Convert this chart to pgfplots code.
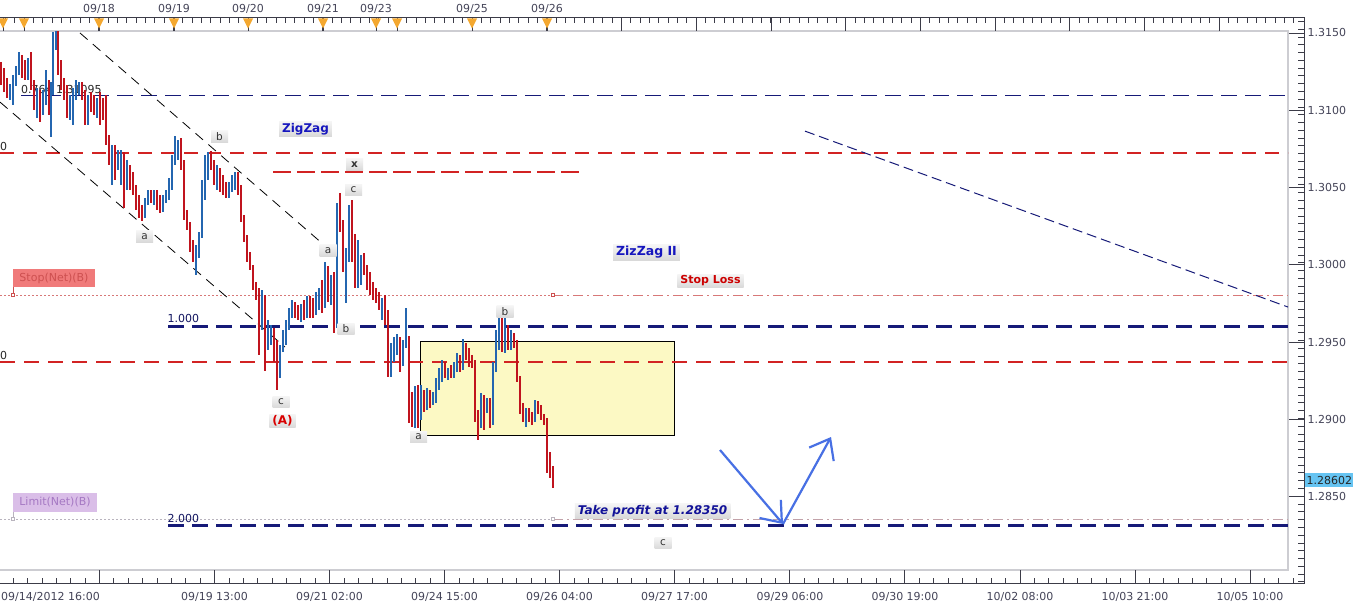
\documentclass[border=0pt]{standalone}
\usepackage{fontspec}
\setmainfont{DejaVu Sans}
\usepackage{pgfplots}
\usepackage{pgfplotstable}
\pgfplotsset{compat=1.18}
\usetikzlibrary{arrows.meta}

\definecolor{cred}{RGB}{192,20,30}
\definecolor{cblue}{RGB}{36,102,176}
\definecolor{navy}{RGB}{22,26,120}
\definecolor{lvred}{RGB}{210,35,35}
\definecolor{axdark}{RGB}{60,60,72}
\definecolor{labgray}{RGB}{68,68,88}
\definecolor{framegray}{RGB}{205,205,210}
\definecolor{tri}{RGB}{244,168,48}
\definecolor{yel}{RGB}{252,249,196}
\definecolor{arrowblue}{RGB}{72,112,228}
\definecolor{txtblue}{RGB}{22,22,190}
\definecolor{stopfill}{RGB}{240,122,122}
\definecolor{stoptext}{RGB}{205,80,80}
\definecolor{limfill}{RGB}{218,190,232}
\definecolor{limtext}{RGB}{165,120,195}
\definecolor{pricebox}{RGB}{102,196,242}
\definecolor{stopline}{RGB}{215,120,120}
\definecolor{limline}{RGB}{185,180,190}

\pgfplotsset{
  pix/.style={at={(0,0)}, anchor=south west, scale only axis, width=1360bp, height=608bp,
    xmin=0, xmax=1360, ymin=0, ymax=608, y dir=reverse, hide axis, clip=false},
  prc/.style={at={(0,0)}, anchor=south west, scale only axis, width=1360bp, height=608bp,
    xmin=0, xmax=1360, ymin=1.277799, ymax=1.317135, hide axis, clip=false},
  candle/.style 2 args={only marks, mark size=0pt, mark options={draw=none, fill=none}, forget plot,
    error bars/.cd, y dir=minus, y explicit, error mark=none,
    error bar style={draw=#1, line width=#2}},
}
\tikzset{
  lab/.style={font=\fontsize{11bp}{13bp}\selectfont, text=labgray, inner sep=0pt},
  wbox/.style={top color=gray!8, bottom color=gray!30, draw=none, minimum width=17bp, minimum height=11.5bp,
    inner sep=0pt, font=\fontsize{10.5bp}{12bp}\selectfont, text=black!80},
  bbox/.style={top color=gray!8, bottom color=gray!30, draw=none, inner xsep=3bp, inner ysep=1.5bp},
}

\pgfplotstableread{
x o h l c
1 1.31247 1.31312 1.31163 1.31195
4 1.31195 1.31273 1.31118 1.31144
7 1.31144 1.31208 1.31079 1.31118
22 1.31312 1.31357 1.31208 1.31273
25 1.31273 1.31325 1.31195 1.31228
31 1.31260 1.31377 1.31131 1.31163
34 1.31163 1.31195 1.31001 1.31034
40 1.31098 1.31131 1.30924 1.31014
49 1.31118 1.31195 1.30969 1.31034
58 1.31487 1.31512 1.31228 1.31260
61 1.31260 1.31325 1.31131 1.31163
64 1.31163 1.31208 1.31066 1.31098
67 1.31098 1.31163 1.30949 1.31001
82 1.31163 1.31182 1.31066 1.31098
85 1.31098 1.31131 1.30904 1.31001
91 1.31066 1.31118 1.30988 1.31034
94 1.31034 1.31098 1.30969 1.31014
100 1.31053 1.31118 1.30904 1.31001
103 1.31001 1.31079 1.30937 1.30969
106 1.31001 1.31098 1.30775 1.30807
109 1.30807 1.30840 1.30645 1.30678
115 1.30755 1.30775 1.30548 1.30645
124 1.30710 1.30730 1.30367 1.30548
130 1.30613 1.30645 1.30484 1.30548
133 1.30548 1.30600 1.30451 1.30484
136 1.30484 1.30516 1.30354 1.30419
139 1.30419 1.30451 1.30302 1.30354
142 1.30354 1.30387 1.30283 1.30322
151 1.30451 1.30484 1.30400 1.30419
157 1.30451 1.30484 1.30354 1.30419
160 1.30419 1.30451 1.30335 1.30387
181 1.30775 1.30820 1.30613 1.30645
184 1.30645 1.30678 1.30290 1.30322
187 1.30322 1.30354 1.30225 1.30257
190 1.30257 1.30277 1.30083 1.30108
193 1.30108 1.30160 1.30018 1.30044
211 1.30691 1.30736 1.30613 1.30645
214 1.30645 1.30678 1.30516 1.30548
220 1.30600 1.30626 1.30471 1.30516
223 1.30516 1.30581 1.30451 1.30484
226 1.30484 1.30535 1.30432 1.30445
238 1.30561 1.30600 1.30451 1.30484
241 1.30484 1.30516 1.30277 1.30290
244 1.30290 1.30322 1.30147 1.30160
247 1.30160 1.30193 1.30018 1.30044
250 1.30044 1.30083 1.29966 1.29979
253 1.29979 1.29998 1.29837 1.29863
256 1.29863 1.29888 1.29772 1.29798
259 1.29798 1.29850 1.29416 1.29643
265 1.29772 1.29804 1.29313 1.29513
274 1.29565 1.29591 1.29371 1.29448
277 1.29448 1.29513 1.29190 1.29319
295 1.29733 1.29759 1.29655 1.29694
298 1.29694 1.29740 1.29643 1.29668
304 1.29720 1.29772 1.29643 1.29694
310 1.29772 1.29798 1.29655 1.29740
313 1.29740 1.29785 1.29655 1.29694
322 1.29804 1.29901 1.29688 1.29740
328 1.29934 1.29992 1.29759 1.29804
334 1.29901 1.29953 1.29559 1.29610
340 1.30354 1.30464 1.30212 1.30257
343 1.30257 1.30290 1.29953 1.29998
352 1.30341 1.30419 1.30018 1.30063
355 1.30063 1.30199 1.29850 1.29901
364 1.30018 1.30076 1.29934 1.29966
367 1.29966 1.29998 1.29837 1.29888
370 1.29888 1.29953 1.29804 1.29837
373 1.29837 1.29888 1.29772 1.29804
376 1.29804 1.29850 1.29753 1.29772
379 1.29772 1.29824 1.29707 1.29740
385 1.29772 1.29804 1.29610 1.29643
388 1.29643 1.29707 1.29274 1.29351
400 1.29513 1.29533 1.29306 1.29371
409 1.29513 1.29539 1.28976 1.29093
412 1.29093 1.29177 1.28950 1.29028
418 1.29157 1.29222 1.28944 1.29060
424 1.29177 1.29190 1.29047 1.29112
430 1.29157 1.29190 1.29073 1.29125
445 1.29332 1.29371 1.29267 1.29287
451 1.29306 1.29351 1.29267 1.29287
460 1.29384 1.29416 1.29306 1.29332
466 1.29461 1.29494 1.29384 1.29436
469 1.29436 1.29461 1.29339 1.29384
472 1.29384 1.29416 1.29332 1.29371
475 1.29371 1.29384 1.28983 1.29008
478 1.29008 1.29060 1.28866 1.28963
484 1.29125 1.29157 1.28931 1.29093
490 1.29112 1.29138 1.28944 1.28996
502 1.29630 1.29655 1.29436 1.29481
508 1.29591 1.29610 1.29448 1.29481
514 1.29526 1.29559 1.29461 1.29481
517 1.29481 1.29513 1.29241 1.29267
520 1.29267 1.29280 1.29034 1.29060
523 1.29060 1.29106 1.28983 1.29008
529 1.29047 1.29073 1.28983 1.29008
532 1.29008 1.29047 1.28963 1.28996
538 1.29093 1.29119 1.29034 1.29060
541 1.29060 1.29093 1.28996 1.29021
544 1.29021 1.29034 1.28963 1.28983
547 1.28983 1.29008 1.28653 1.28685
550 1.28685 1.28789 1.28620 1.28672
553 1.28672 1.28698 1.28556 1.28601
}\redtab

\pgfplotstableread{
x o h l c
10 1.31118 1.31170 1.31066 1.31157
13 1.31144 1.31228 1.31034 1.31195
16 1.31195 1.31286 1.31157 1.31260
19 1.31260 1.31377 1.31228 1.31325
28 1.31228 1.31338 1.31195 1.31260
37 1.31034 1.31144 1.30949 1.31098
43 1.31014 1.31131 1.30969 1.31098
46 1.31098 1.31260 1.31034 1.31131
51 1.31034 1.31182 1.30827 1.31131
53 1.31131 1.31506 1.31098 1.31454
56 1.31454 1.31512 1.31390 1.31487
70 1.31001 1.31098 1.30937 1.31066
73 1.31066 1.31144 1.30904 1.31118
76 1.31118 1.31195 1.31066 1.31144
79 1.31144 1.31182 1.31098 1.31163
88 1.31001 1.31098 1.30904 1.31066
97 1.31014 1.31079 1.30949 1.31053
112 1.30678 1.30775 1.30516 1.30755
118 1.30645 1.30742 1.30613 1.30691
121 1.30678 1.30742 1.30516 1.30710
127 1.30548 1.30678 1.30484 1.30613
145 1.30322 1.30432 1.30302 1.30419
148 1.30419 1.30484 1.30387 1.30451
154 1.30419 1.30484 1.30387 1.30451
163 1.30387 1.30451 1.30341 1.30419
166 1.30419 1.30484 1.30400 1.30451
169 1.30451 1.30561 1.30419 1.30516
172 1.30516 1.30710 1.30484 1.30678
175 1.30678 1.30833 1.30645 1.30775
178 1.30775 1.30807 1.30678 1.30788
196 1.30044 1.30128 1.29934 1.30095
199 1.30095 1.30212 1.30044 1.30193
202 1.30193 1.30548 1.30173 1.30451
205 1.30451 1.30710 1.30419 1.30645
208 1.30645 1.30730 1.30548 1.30678
217 1.30548 1.30645 1.30484 1.30600
229 1.30445 1.30535 1.30432 1.30497
232 1.30497 1.30581 1.30471 1.30535
235 1.30535 1.30600 1.30484 1.30561
262 1.29643 1.29837 1.29578 1.29772
268 1.29513 1.29643 1.29448 1.29546
271 1.29546 1.29610 1.29481 1.29565
280 1.29306 1.29481 1.29267 1.29461
283 1.29461 1.29578 1.29436 1.29513
286 1.29513 1.29643 1.29481 1.29610
289 1.29610 1.29720 1.29578 1.29694
292 1.29694 1.29772 1.29655 1.29733
301 1.29668 1.29746 1.29630 1.29720
307 1.29694 1.29798 1.29655 1.29772
316 1.29694 1.29824 1.29675 1.29772
319 1.29772 1.29850 1.29707 1.29804
325 1.29740 1.30018 1.29720 1.29934
331 1.29804 1.29934 1.29740 1.29901
337 1.29610 1.30400 1.29591 1.30354
346 1.29998 1.30108 1.29753 1.30063
349 1.30063 1.30387 1.30018 1.30341
358 1.29901 1.30160 1.29850 1.29998
361 1.29998 1.30063 1.29869 1.30018
382 1.29740 1.29785 1.29643 1.29772
391 1.29351 1.29494 1.29274 1.29448
394 1.29448 1.29533 1.29371 1.29500
397 1.29500 1.29552 1.29416 1.29513
403 1.29371 1.29513 1.29345 1.29481
406 1.29481 1.29720 1.29461 1.29513
415 1.29028 1.29216 1.28944 1.29157
421 1.29060 1.29222 1.28996 1.29177
427 1.29112 1.29203 1.29060 1.29157
433 1.29125 1.29177 1.29093 1.29138
436 1.29138 1.29267 1.29106 1.29222
439 1.29222 1.29332 1.29190 1.29306
442 1.29306 1.29384 1.29241 1.29332
448 1.29287 1.29332 1.29254 1.29306
454 1.29287 1.29371 1.29267 1.29332
457 1.29332 1.29429 1.29306 1.29384
463 1.29332 1.29520 1.29319 1.29461
481 1.28963 1.29170 1.28944 1.29125
487 1.29093 1.29138 1.29041 1.29112
493 1.28996 1.29371 1.28963 1.29319
496 1.29319 1.29578 1.29306 1.29546
499 1.29546 1.29675 1.29448 1.29630
505 1.29481 1.29662 1.29429 1.29591
511 1.29481 1.29578 1.29448 1.29526
526 1.29008 1.29073 1.28950 1.29047
535 1.28996 1.29125 1.28983 1.29093
}\bluetab

\begin{document}
\begin{tikzpicture}
\useasboundingbox (0,0) rectangle (1360bp,608bp);
\fill[white] (0,0) rectangle (1360bp,608bp);

%================ background / axes (pixel coordinates)
\begin{axis}[pix]
  \draw[framegray, line width=2bp] (axis cs:0,31) -- (axis cs:1288,31) -- (axis cs:1288,570) -- (axis cs:0,570);
  \draw[axdark, line width=1bp] (axis cs:0,18) -- (axis cs:1304,18) -- (axis cs:1304,583) -- (axis cs:0,583);
  % bottom ticks
  \pgfplotsforeachungrouped \k in {-6,...,83}{%
    \pgfmathsetmacro\xx{99.5+14.381*\k}%
    \edef\temp{\noexpand\draw[axdark, line width=0.8bp] (axis cs:\xx,583) -- (axis cs:\xx,578);}\temp
  }
  \pgfplotsforeachungrouped \m in {0,...,10}{%
    \pgfmathsetmacro\xx{99.5+115.05*\m}%
    \edef\temp{\noexpand\draw[axdark, line width=0.8bp] (axis cs:\xx,583) -- (axis cs:\xx,570);}\temp
  }
  % top ticks
  \pgfplotsforeachungrouped \k in {-2,...,136}{%
    \pgfmathsetmacro\xx{24+9.336*\k}%
    \edef\temp{\noexpand\draw[axdark, line width=0.8bp] (axis cs:\xx,18) -- (axis cs:\xx,23.5);}\temp
  }
  \pgfplotsforeachungrouped \m in {0,...,16}{%
    \pgfmathsetmacro\xx{24+74.69*\m}%
    \edef\temp{\noexpand\draw[axdark, line width=0.8bp] (axis cs:\xx,18) -- (axis cs:\xx,31);}\temp
  }
  \pgfplotsinvokeforeach{3,24,99,174,248,323,376,397,472,547}{%
    \draw[axdark, line width=0.8bp] (axis cs:#1,18) -- (axis cs:#1,31);
    \fill[tri] (axis cs:#1,28.5) -- ++(-5bp,10bp) -- ++(10bp,0) -- cycle;
  }
  % top labels
  \node[lab] at (axis cs:99,9) {09/18};
  \node[lab] at (axis cs:174,9) {09/19};
  \node[lab] at (axis cs:248,9) {09/20};
  \node[lab] at (axis cs:323,9) {09/21};
  \node[lab] at (axis cs:376,9) {09/23};
  \node[lab] at (axis cs:472,9) {09/25};
  \node[lab] at (axis cs:547,9) {09/26};
  % bottom labels
  \node[lab, anchor=west] at (axis cs:1,597) {09/14/2012 16:00};
  \node[lab] at (axis cs:214.5,597) {09/19 13:00};
  \node[lab] at (axis cs:329.5,597) {09/21 02:00};
  \node[lab] at (axis cs:444.5,597) {09/24 15:00};
  \node[lab] at (axis cs:559.5,597) {09/26 04:00};
  \node[lab] at (axis cs:674.5,597) {09/27 17:00};
  \node[lab] at (axis cs:790,597) {09/29 06:00};
  \node[lab] at (axis cs:905,597) {09/30 19:00};
  \node[lab] at (axis cs:1020,597) {10/02 08:00};
  \node[lab] at (axis cs:1135,597) {10/03 21:00};
  \node[lab] at (axis cs:1250,597) {10/05 10:00};
  % current price box
  \fill[pricebox] (axis cs:1305,473) rectangle (axis cs:1353,487);
  \node[lab, text=black!85, anchor=west] at (axis cs:1306.5,480) {1.28602};
  % fibonacci label drawn below the candles
  \node[lab, text=black!85, anchor=west] at (axis cs:21,89) {0.764 1.31095};
\end{axis}

%================ price data
\begin{axis}[prc]
  % right axis ticks
  \pgfplotsforeachungrouped \k in {0,...,72}{%
    \pgfmathsetmacro\pp{1.2795+0.0005*\k}%
    \edef\temp{\noexpand\draw[axdark, line width=0.8bp] (axis cs:1298,\pp) -- (axis cs:1304,\pp);}\temp
  }
  \pgfplotsinvokeforeach{1.2850,1.2900,1.2950,1.3000,1.3050,1.3100,1.3150}{%
    \draw[axdark, line width=0.8bp] (axis cs:1289,#1) -- (axis cs:1304,#1);
    \node[lab, anchor=west] at (axis cs:1307.5,#1) {#1};
  }
  % box
  \draw[fill=yel, draw=black, line width=1bp] (axis cs:420,1.29502) rectangle (axis cs:674,1.28899);
  % level lines
  \addplot[navy, line width=1.4bp, dash pattern=on 16bp off 8bp] coordinates {(21,1.31095) (1288,1.31095)};
  \addplot[lvred, line width=1.25bp, dash pattern=on 14bp off 9bp] coordinates {(0,1.30723) (1288,1.30723)};
  \addplot[lvred, line width=2.6bp, dash pattern=on 18bp off 6bp] coordinates {(273,1.30600) (580,1.30600)};
  \addplot[stopline, line width=0.8bp, dash pattern=on 2bp off 2bp] coordinates {(0,1.29804) (553,1.29804)};
  \addplot[stopline, line width=0.8bp, dash pattern=on 10bp off 4bp on 2bp off 4bp] coordinates {(553,1.29804) (1288,1.29804)};
  \addplot[navy, line width=3bp, dash pattern=on 16bp off 8bp] coordinates {(168,1.29604) (1288,1.29604)};
  \addplot[lvred, line width=1.25bp, dash pattern=on 15bp off 9bp] coordinates {(0,1.29371) (1288,1.29371)};
  \addplot[limline, line width=0.8bp, dash pattern=on 2bp off 2bp] coordinates {(0,1.28355) (553,1.28355)};
  \addplot[limline!70!stopline, line width=0.8bp, dash pattern=on 10bp off 4bp on 2bp off 4bp] coordinates {(553,1.28355) (1288,1.28355)};
  \addplot[navy, line width=3bp, dash pattern=on 16bp off 8bp] coordinates {(168,1.28313) (1288,1.28313)};
  % trend channel and trend line
  \addplot[black, line width=0.8bp, dash pattern=on 10bp off 7bp] coordinates {(80,1.31500) (330,1.30095)};
  \addplot[black, line width=0.8bp, dash pattern=on 10bp off 7bp] coordinates {(0,1.31053) (285,1.29468)};
  \addplot[navy, line width=1bp, dash pattern=on 10bp off 5bp] coordinates {(805,1.30865) (1288,1.29727)};
  % candles: wicks
  \addplot[candle={cred}{1.1bp}]
    table[x=x, y=h, y error minus expr=\thisrow{h}-\thisrow{l}] {\redtab};
  \addplot[candle={cblue}{1.1bp}]
    table[x=x, y=h, y error minus expr=\thisrow{h}-\thisrow{l}] {\bluetab};
  % candles: bodies
  \addplot[candle={cred}{2.6bp}]
    table[x=x, y=o, y error minus expr=\thisrow{o}-\thisrow{c}] {\redtab};
  \addplot[candle={cblue}{2.6bp}]
    table[x=x, y=c, y error minus expr=\thisrow{c}-\thisrow{o}] {\bluetab};
\end{axis}

%================ annotations (pixel coordinates)
\begin{axis}[pix]
  % level labels
  \node[lab, text=black!85, anchor=west] at (axis cs:0,146) {0};
  \node[lab, text=black!85, anchor=west] at (axis cs:0,355) {0};
  \node[lab, text=navy!80!black, anchor=west] at (axis cs:167.5,318) {1.000};
  \node[lab, text=navy!80!black, anchor=west] at (axis cs:167.5,518) {2.000};
  % order labels
  \draw[stoptext, line width=0.6bp] (axis cs:13,287) -- (axis cs:13,295);
  \fill[stopfill] (axis cs:13,269) rectangle (axis cs:95,287);
  \node[lab, text=stoptext] at (axis cs:54,278) {Stop(Net)(B)};
  \draw[stoptext, fill=white, line width=0.6bp] (axis cs:13,295) ++(-1.5bp,-1.5bp) rectangle ++(3bp,3bp);
  \draw[stoptext, fill=white, line width=0.6bp] (axis cs:553,295) ++(-1.5bp,-1.5bp) rectangle ++(3bp,3bp);
  \draw[limline, line width=0.6bp] (axis cs:13,512) -- (axis cs:13,519);
  \fill[limfill] (axis cs:13,493) rectangle (axis cs:97,512);
  \node[lab, text=limtext] at (axis cs:55,502.5) {Limit(Net)(B)};
  \draw[limline, fill=white, line width=0.6bp] (axis cs:13,519) ++(-1.5bp,-1.5bp) rectangle ++(3bp,3bp);
  \draw[limline, fill=white, line width=0.6bp] (axis cs:553,519) ++(-1.5bp,-1.5bp) rectangle ++(3bp,3bp);
  % wave labels
  \node[wbox] at (axis cs:219.5,136.5) {b};
  \node[wbox] at (axis cs:144.5,236.5) {a};
  \node[wbox, font=\bfseries\fontsize{10.5bp}{12bp}\selectfont] at (axis cs:354.5,164.5) {x};
  \node[wbox] at (axis cs:353.5,190) {c};
  \node[wbox] at (axis cs:328,250.5) {a};
  \node[wbox] at (axis cs:346,329) {b};
  \node[wbox] at (axis cs:281,402) {c};
  \node[wbox] at (axis cs:418.5,437) {a};
  \node[wbox] at (axis cs:505,311.5) {b};
  \node[wbox] at (axis cs:663,543) {c};
  % titles
  \node[bbox, font=\bfseries\fontsize{12bp}{14bp}\selectfont, text=txtblue] at (axis cs:305.5,129) {ZigZag};
  \node[bbox, font=\bfseries\fontsize{12.5bp}{14bp}\selectfont, text=txtblue] at (axis cs:646.5,252.5) {ZizZag II};
  \node[bbox, font=\bfseries\fontsize{11bp}{13bp}\selectfont, text=red!80!black] at (axis cs:710.5,281) {Stop Loss};
  \node[bbox, font=\bfseries\fontsize{12bp}{14bp}\selectfont, text=red!85!black] at (axis cs:282.5,421) {(A)};
  \node[bbox, font=\bfseries\itshape\fontsize{12bp}{14bp}\selectfont, text=txtblue!80!black] at (axis cs:652.5,511) {Take profit at 1.28350};
  % arrows
  \draw[arrowblue, line width=2.2bp, -{Straight Barb[length=18bp,width=28bp]}] (axis cs:720,450) -- (axis cs:783,524);
  \draw[arrowblue, line width=2.2bp, -{Straight Barb[length=18bp,width=28bp]}] (axis cs:783,524) -- (axis cs:831,437);
\end{axis}
\end{tikzpicture}
\end{document}
